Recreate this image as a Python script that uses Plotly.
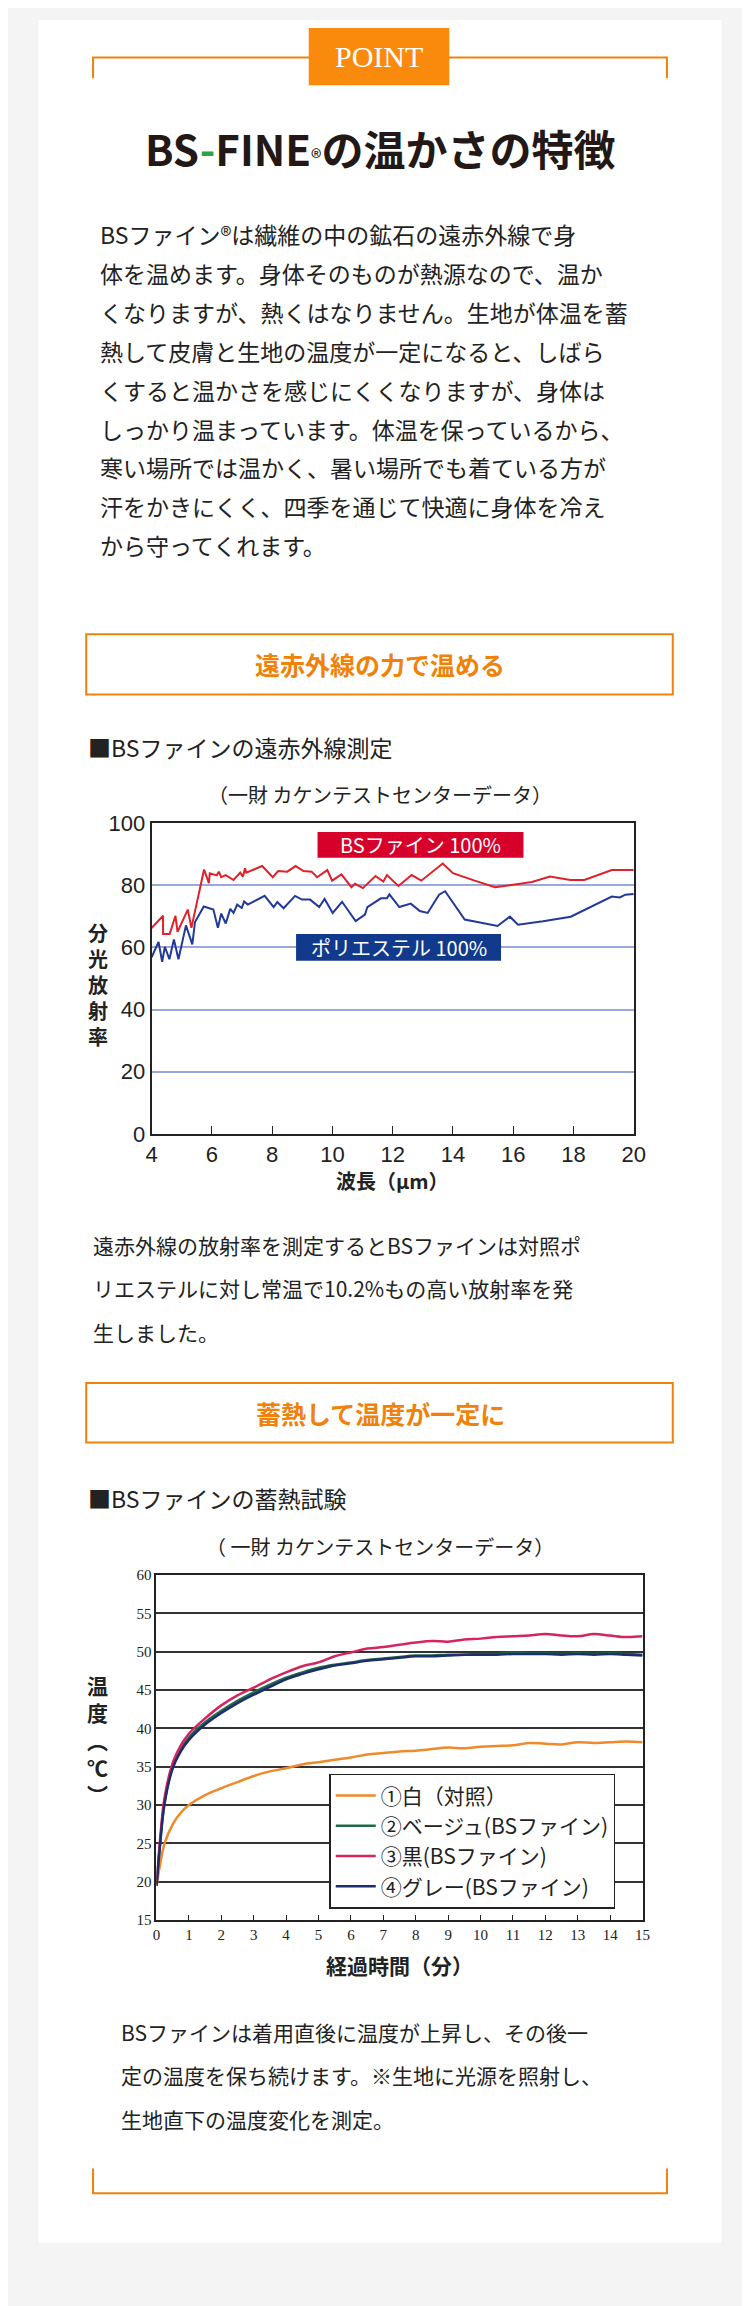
import plotly.graph_objects as go

W, H = 750, 2306
def px(x): return x / W
def py(y): return 1 - y / H

# Chart 1 data
bs_x = [4,4.38,4.38,4.6,4.79,4.86,5.2,5.32,5.74,5.9,5.93,6.16,6.23,6.31,6.46,6.72,6.94,7.03,7.1,7.14,7.67,8.02,8.2,8.5,8.78,9.04,9.31,9.49,9.83,9.99,10.3,10.63,10.75,11.01,11.43,11.69,11.81,12.19,12.63,12.95,13.66,14,14.72,15.4,15.94,16.62,17.22,17.9,18.36,19.27,19.42,19.95,20]
bs_y = [66.2,70.2,64.3,64.3,70.2,65,72.2,66.3,85.1,80.7,83.9,83.2,84.4,82.6,83.3,81.7,84.1,82.8,85.5,84.1,86.2,82.6,84.6,84.4,86.2,84.6,84.4,82.6,84.9,81.5,83.5,79.4,80.5,79.1,83,81.2,83.3,79.8,83.3,81.5,87,83.9,81.5,79.4,80.1,81.1,82.8,81.7,81.7,84.9,84.9,84.9,84.9]
pe_x = [4,4.23,4.35,4.44,4.59,4.74,4.89,5.14,5.35,5.44,5.73,6.05,6.2,6.31,6.46,6.61,6.72,6.84,6.99,7.07,7.19,7.75,8.05,8.17,8.38,8.76,8.99,9.26,9.56,9.74,10.01,10.32,10.77,11.08,11.16,11.61,11.81,11.89,12.22,12.6,12.9,13.16,13.54,13.74,14.39,15.48,15.89,16.16,16.99,17.91,19.27,19.54,19.72,19.95,20]
pe_y = [56.8,61.8,55.4,60.2,56.2,62.6,56.2,67.1,61,68.2,73.2,72.2,66.3,70.9,67.7,72.4,71.1,73.8,72.7,74.8,73.8,76.6,73,74.6,72.6,76.6,75.4,75.4,73,75.6,71.1,74.7,68.5,70.6,73,75.8,75.8,77.1,73,74.1,71.7,71.1,77,78.1,69,66.9,69.9,67.3,68.4,69.9,76.4,76.1,77,77.2,77.2]

# Chart 2 data
t = [0,0.1,0.25,0.5,0.75,1,1.5,2,2.5,3,3.5,4,4.5,5,5.5,6,6.5,7,7.5,8,8.5,9,9.5,10,10.5,11,11.5,12,12.5,13,13.5,14,14.5,15]
white = [19.5,22,25,27.5,29,30,31.3,32.2,33,33.8,34.4,34.8,35.3,35.6,35.9,36.2,36.6,36.8,37,37.1,37.3,37.5,37.4,37.6,37.7,37.8,38.1,38.0,37.9,38.2,38.1,38.2,38.3,38.2]
beige = [19.5,24.5,30.5,35,37.3,38.8,40.8,42.3,43.6,44.7,45.7,46.6,47.3,47.9,48.3,48.6,48.9,49.1,49.3,49.5,49.5,49.6,49.6,49.7,49.7,49.9,49.8,49.8,49.7,49.8,49.7,49.8,49.7,49.6]
black = [19.5,25,31,35.5,37.8,39.3,41.3,43,44.3,45.3,46.4,47.3,48.1,48.6,49.4,49.9,50.4,50.6,50.9,51.2,51.4,51.3,51.6,51.7,51.9,52.0,52.1,52.3,52.1,52.0,52.3,52.1,51.9,52.0]
gray = [19.5,24.3,30.2,34.8,37.0,38.5,40.5,42.0,43.3,44.4,45.4,46.4,47.1,47.7,48.2,48.5,48.8,49.0,49.2,49.4,49.4,49.5,49.6,49.6,49.6,49.7,49.7,49.7,49.6,49.7,49.6,49.7,49.6,49.5]
names2 = ["①白（対照）", "②ベージュ(BSファイン)", "③黒(BSファイン)", "④グレー(BSファイン)"]
cols2 = ["#ee8a2a", "#1e6b45", "#d6245e", "#1d2d6e"]

JP = "Noto Sans CJK JP"
NAR = "Liberation Sans Narrow, Liberation Sans"
SER = "Liberation Serif"
OR = "#f0820a"

fig = go.Figure()
fig.add_trace(go.Scatter(x=bs_x, y=bs_y, mode="lines", line=dict(color="#e0202a", width=2), showlegend=False, xaxis="x", yaxis="y"))
fig.add_trace(go.Scatter(x=pe_x, y=pe_y, mode="lines", line=dict(color="#22389a", width=2), showlegend=False, xaxis="x", yaxis="y"))
for s, n, c in zip([white, beige, black, gray], names2, cols2):
    fig.add_trace(go.Scatter(x=t, y=s, mode="lines", name=n, line=dict(color=c, width=2.5, shape="spline"), xaxis="x2", yaxis="y2"))

shapes = [
    dict(type="rect", xref="paper", yref="paper", x0=px(25), x1=px(725), y0=py(2247), y1=py(0), fillcolor="white", line=dict(width=0), layer="below"),
    dict(type="path", xref="paper", yref="paper", path=f"M {px(81)},{py(59)} L {px(81)},{py(38)} L {px(669)},{py(38)} L {px(669)},{py(59)}", line=dict(color=OR, width=2)),
    dict(type="rect", xref="paper", yref="paper", x0=px(302), x1=px(446), y0=py(66), y1=py(8), fillcolor="#f98a0c", line=dict(width=0)),
    dict(type="path", xref="paper", yref="paper", path=f"M {px(81)},{py(2172)} L {px(81)},{py(2197)} L {px(669)},{py(2197)} L {px(669)},{py(2172)}", line=dict(color=OR, width=2)),
    dict(type="rect", xref="paper", yref="paper", x0=px(74), x1=px(675), y0=py(682), y1=py(621), line=dict(color=OR, width=2)),
    dict(type="rect", xref="paper", yref="paper", x0=px(74), x1=px(675), y0=py(1438), y1=py(1378), line=dict(color=OR, width=2)),
    dict(type="rect", xref="paper", yref="paper", x0=px(311), x1=px(522), y0=py(847), y1=py(821), fillcolor="#d7002a", line=dict(width=0)),
    dict(type="rect", xref="paper", yref="paper", x0=px(289), x1=px(499), y0=py(951), y1=py(924), fillcolor="#123a8c", line=dict(width=0)),
]

anns = []
def txt(x, y, s, size, color="#222", family=JP, xanchor="left", **kw):
    anns.append(dict(x=px(x), y=py(y), xref="paper", yref="paper", text=s, showarrow=False, xanchor=xanchor, yanchor="middle", font=dict(size=size, color=color, family=family), **kw))

txt(374, 37, "POINT", 30, "white", SER, "center")
txt(375, 129, "<b>BS<span style='color:#2ca444'>-</span>FINE</b><span style='font-size:22px'>®</span><b>の温かさの特徴</b>", 42, "#231815", JP, "center")
para1 = ["BSファイン®は繊維の中の鉱石の遠赤外線で身",
         "体を温めます。身体そのものが熱源なので、温か",
         "くなりますが、熱くはなりません。生地が体温を蓄",
         "熱して皮膚と生地の温度が一定になると、しばら",
         "くすると温かさを感じにくくなりますが、身体は",
         "しっかり温まっています。体温を保っているから、",
         "寒い場所では温かく、暑い場所でも着ている方が",
         "汗をかきにくく、四季を通じて快適に身体を冷え",
         "から守ってくれます。"]
for i, l in enumerate(para1):
    txt(86, 216 + i * 39.4, l, 23)
txt(375, 651, "<b>遠赤外線の力で温める</b>", 25, OR, JP, "center")
txt(74, 735, "■BSファインの遠赤外線測定", 23)
txt(375, 783, "（一財 カケンテストセンターデータ）", 20, "#222", JP, "center")
txt(416, 834, "BSファイン 100%", 20, "white", JP, "center")
txt(394, 938, "ポリエステル 100%", 20, "white", JP, "center")
txt(86, 975, "<b>分<br>光<br>放<br>射<br>率</b>", 20, "#222", JP, "center")
txt(388, 1173, "<b>波長（μm）</b>", 20, "#222", JP, "center")
para2 = ["遠赤外線の放射率を測定するとBSファインは対照ポ",
         "リエステルに対し常温で10.2%もの高い放射率を発",
         "生しました。"]
for i, l in enumerate(para2):
    txt(79, 1238 + i * 44.3, l, 21)
txt(375, 1408, "<b>蓄熱して温度が一定に</b>", 25, OR, JP, "center")
txt(74, 1494, "■BSファインの蓄熱試験", 23)
txt(375, 1543, "（ 一財 カケンテストセンターデータ）", 20, "#222", JP, "center")
txt(86, 1738, "<b>温<br>度<br>︵<br>℃<br>︶</b>", 21, "#222", JP, "center")
txt(395, 1966, "<b>経過時間（分）</b>", 21, "#222", JP, "center")
para3 = ["BSファインは着用直後に温度が上昇し、その後一",
         "定の温度を保ち続けます。※生地に光源を照射し、",
         "生地直下の温度変化を測定。"]
for i, l in enumerate(para3):
    txt(108, 2034 + i * 44, l, 21)

fig.update_layout(
    width=W, height=H, margin=dict(l=0, r=0, t=0, b=0),
    paper_bgcolor="#f4f4f4", plot_bgcolor="white",
    shapes=shapes, annotations=anns,
    xaxis=dict(domain=[px(141), px(635)], range=[4, 20], tickvals=list(range(4, 21, 2)), showgrid=False, zeroline=False,
               showline=True, linecolor="#222", linewidth=2, mirror=True, ticks="inside", ticklen=8, tickcolor="#222",
               tickfont=dict(family=NAR, size=22, color="#222")),
    yaxis=dict(domain=[py(1126), py(812)], range=[0, 100], tickvals=[0, 20, 40, 60, 80, 100], gridcolor="#9aa8dc", gridwidth=1.5,
               zeroline=False, showline=True, linecolor="#222", linewidth=2, mirror=True, ticks="",
               tickfont=dict(family=NAR, size=22, color="#222")),
    xaxis2=dict(domain=[px(146), px(644)], range=[0, 15], tickvals=list(range(0, 16)), showgrid=False, zeroline=False,
                showline=True, linecolor="#222", linewidth=2, mirror=True, ticks="inside", ticklen=5, tickcolor="#222",
                tickfont=dict(family=SER, size=15, color="#222"), anchor="y2"),
    yaxis2=dict(domain=[py(1921), py(1572)], range=[15, 60], tickvals=list(range(15, 61, 5)), gridcolor="#333", gridwidth=1.5,
                zeroline=False, showline=True, linecolor="#222", linewidth=2, mirror=True, ticks="",
                tickfont=dict(family=SER, size=15, color="#222"), anchor="x2"),
    legend=dict(x=px(323), y=py(1773), xanchor="left", yanchor="top", bgcolor="white", bordercolor="#222", borderwidth=1.5,
                font=dict(family=JP, size=21, color="#222"), tracegroupgap=0, itemwidth=40),
)
fig.write_html("out.html")
